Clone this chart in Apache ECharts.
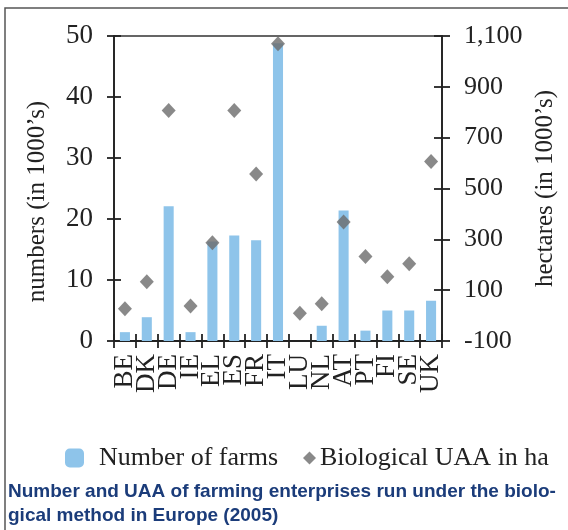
<!DOCTYPE html>
<html>
<head>
<meta charset="utf-8">
<script src="https://cdn.jsdelivr.net/npm/echarts@6/dist/echarts.min.js"></script>
<style>
html,body{margin:0;padding:0;background:#fff;}
#chart{width:568px;height:530px;}
</style>
</head>
<body>
<div id="chart"></div>
<script>
const countries = ['BE','DK','DE','IE','EL','ES','FR','IT','LU','NL','AT','PT','FI','SE','UK'];
const farms = [1.45, 3.9, 22.1, 1.45, 16.3, 17.3, 16.5, 48.8, 0, 2.5, 21.4, 1.7, 5.0, 5.0, 6.6];
const uaa = [27, 133, 807, 38, 287, 807, 557, 1070, 9, 47, 368, 232, 153, 204, 606];
const leftTicks = {min: 0, max: 50, interval: 10};
const rightTicks = {min: -100, max: 1100, interval: 200};
const caption = 'Number and UAA of farming enterprises run under the biolo-\ngical method in Europe (2005)';

const serif = 'Liberation Serif';
const ink = '#222';
const lineStyle = {color: '#222', width: 1.8};

const chart = echarts.init(document.getElementById('chart'), null, {renderer: 'canvas'});
chart.setOption({
  animation: false,
  backgroundColor: '#fff',
  grid: {left: 114, right: 126, top: 36, bottom: 189, show: true, borderColor: '#333', borderWidth: 1.5, backgroundColor: 'transparent'},
  title: {
    text: caption, left: 3, top: 475,
    textStyle: {fontFamily: 'Liberation Sans', fontWeight: 'bold', fontSize: 19, color: '#1b3c7a', lineHeight: 24}
  },
  graphic: [{
    type: 'rect', shape: {x: 5, y: 8, width: 620, height: 600},
    style: {fill: 'none', stroke: '#555', lineWidth: 1.5}, silent: true, z: 0
  }],
  legend: [{
    data: ['Number of farms'], left: 60, top: 440, itemWidth: 19, itemHeight: 19,
    itemGap: 10, textStyle: {fontFamily: serif, fontSize: 26, color: ink, padding: [0,0,0,10]}
  }, {
    data: [{name: 'Biological UAA in ha', icon: 'diamond'}], left: 298, top: 440, itemWidth: 13, itemHeight: 13,
    textStyle: {fontFamily: serif, fontSize: 26, color: ink, padding: [0,0,0,-1]}
  }],
  xAxis: [{
    type: 'category', data: countries, position: 'bottom', boundaryGap: true,
    axisLine: {show: true, onZero: false, lineStyle: lineStyle},
    axisTick: {show: true, length: 7, alignWithLabel: false, lineStyle: lineStyle},
    axisLabel: {rotate: 90, margin: 13, fontFamily: serif, fontSize: 27, color: ink, interval: 0},
    splitLine: {show: false}
  }, {
    type: 'category', data: countries, position: 'bottom', offset: 0, boundaryGap: true,
    axisLine: {show: false, onZero: false},
    axisTick: {show: true, inside: true, length: 7, lineStyle: lineStyle},
    axisLabel: {show: false}, splitLine: {show: false}
  }],
  yAxis: [{
    type: 'value', position: 'left', min: leftTicks.min, max: leftTicks.max, interval: leftTicks.interval,
    name: 'numbers (in 1000’s)', nameLocation: 'middle', nameGap: 64,
    nameTextStyle: {fontFamily: serif, fontSize: 25, color: ink, padding: [0, 26, 0, 0]},
    axisLine: {show: true, lineStyle: lineStyle},
    axisTick: {show: true, length: 7, lineStyle: lineStyle},
    axisLabel: {margin: 21, fontFamily: serif, fontSize: 27, color: ink},
    splitLine: {show: false}
  }, {
    type: 'value', position: 'right', min: rightTicks.min, max: rightTicks.max, interval: rightTicks.interval,
    name: 'hectares (in 1000’s)', nameLocation: 'middle', nameGap: 90,
    nameTextStyle: {fontFamily: serif, fontSize: 25, color: ink},
    axisLine: {show: true, lineStyle: lineStyle},
    axisTick: {show: true, length: 8, lineStyle: lineStyle},
    axisLabel: {margin: 22, fontFamily: serif, fontSize: 26, color: ink,
      formatter: v => v.toLocaleString('en-US')},
    splitLine: {show: false}
  }, {
    type: 'value', position: 'left', offset: 0, min: leftTicks.min, max: leftTicks.max, interval: leftTicks.interval,
    axisLine: {show: false}, axisTick: {show: true, inside: true, length: 7, lineStyle: lineStyle},
    axisLabel: {show: false}, splitLine: {show: false}
  }, {
    type: 'value', position: 'right', offset: 0, min: rightTicks.min, max: rightTicks.max, interval: rightTicks.interval,
    axisLine: {show: false}, axisTick: {show: true, inside: true, length: 8, lineStyle: lineStyle},
    axisLabel: {show: false}, splitLine: {show: false}
  }],
  series: [{
    name: 'Number of farms', type: 'bar', xAxisIndex: 0, yAxisIndex: 0,
    data: farms, barWidth: '46%', itemStyle: {color: '#8ec4ea'}, z: 2
  }, {
    name: 'Biological UAA in ha', type: 'scatter', xAxisIndex: 0, yAxisIndex: 1,
    data: uaa, symbol: 'diamond', symbolSize: [14, 15], itemStyle: {color: '#6b6b6b'}, z: 3
  }]
});
</script>
</body>
</html>
